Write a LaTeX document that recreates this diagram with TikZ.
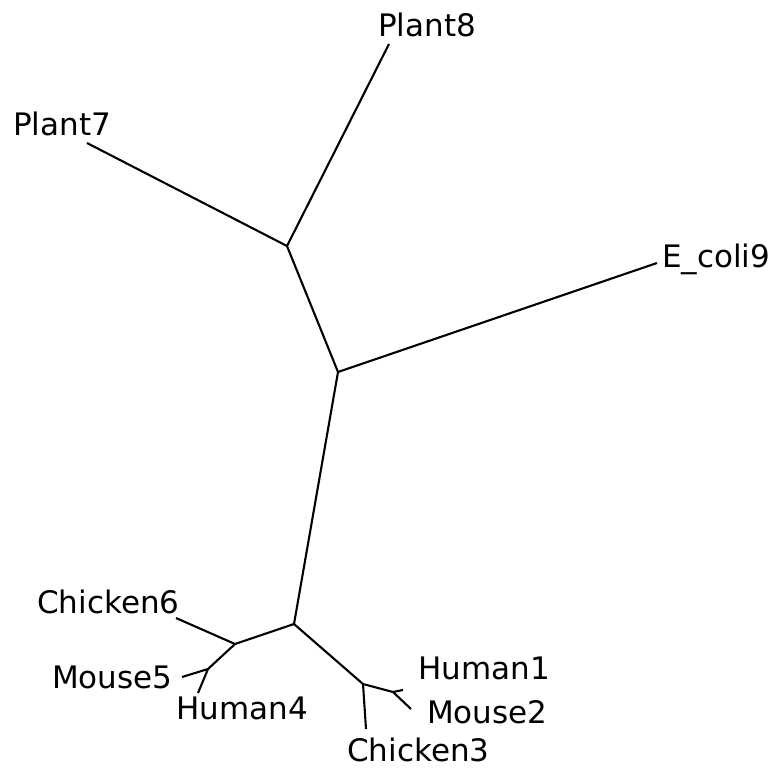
\documentclass[tikz,border=0pt]{standalone}
\usepackage{fontspec}
\setmainfont{DejaVu Sans}
\begin{document}
\begin{tikzpicture}[x=1pt,y=-1pt,
  lbl/.style={inner sep=0pt,anchor=base west,font=\fontsize{31}{36}\selectfont},
  br/.style={line width=2.1pt,black}]
\useasboundingbox (0,0) rectangle (777,769);
% internal nodes
\coordinate (A) at (287,246);
\coordinate (B) at (338,372);
\coordinate (C) at (294,624);
\coordinate (D) at (235,644);
\coordinate (E) at (208,669);
\coordinate (F) at (363,684);
\coordinate (G) at (393,692);
% tips
\coordinate (t8) at (389,44);
\coordinate (t7) at (87,143);
\coordinate (t9) at (657,263);
\coordinate (t6) at (176,618);
\coordinate (t5) at (182,677);
\coordinate (t4) at (198,693);
\coordinate (t3) at (366,729);
\coordinate (t1) at (403,690);
\coordinate (t2) at (411,709);
% labels
\node[lbl] (l8) at (378,36) {Plant8};
\node[lbl] (l7) at (13,135) {Plant7};
\node[lbl] (l9) at (662,267) {E\_coli9};
\node[lbl] (l6) at (37,613) {Chicken6};
\node[lbl] (l5) at (52,688) {Mouse5};
\node[lbl] (l4) at (176,719) {Human4};
\node[lbl] (l1) at (418,679) {Human1};
\node[lbl] (l2) at (427,723) {Mouse2};
\node[lbl] (l3) at (347,761) {Chicken3};
% branches
\draw[br] (A) -- (t8);
\draw[br] (A) -- (t7);
\draw[br] (A) -- (B);
\draw[br] (B) -- (t9);
\draw[br] (B) -- (C);
\draw[br] (C) -- (D);
\draw[br] (D) -- (t6);
\draw[br] (D) -- (E);
\draw[br] (E) -- (t5);
\draw[br] (E) -- (t4);
\draw[br] (C) -- (F);
\draw[br] (F) -- (t3);
\draw[br] (F) -- (G);
\draw[br] (G) -- (t1);
\draw[br] (G) -- (t2);
\end{tikzpicture}
\end{document}
